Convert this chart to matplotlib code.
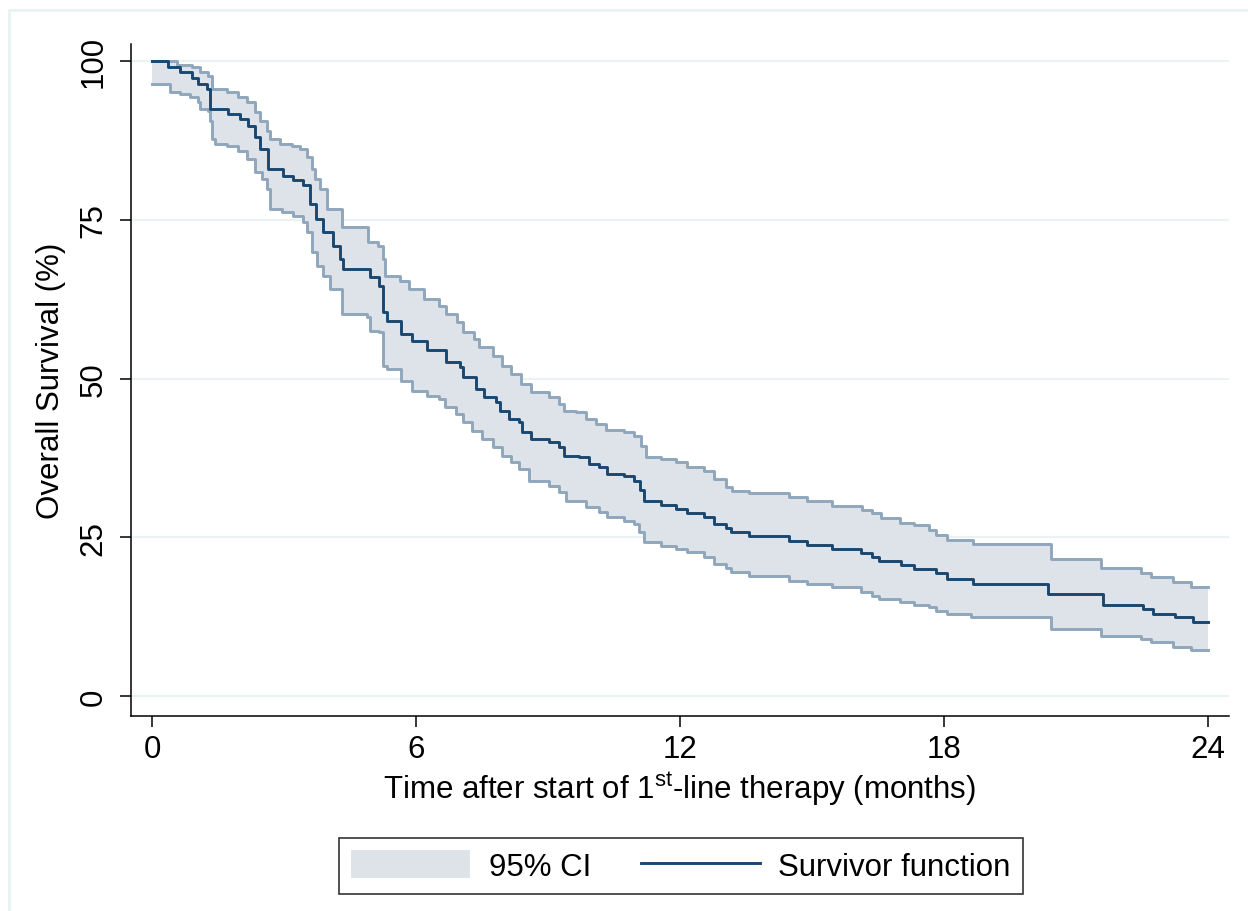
import numpy as np
import matplotlib
matplotlib.use("Agg")
import matplotlib.pyplot as plt
from matplotlib.patches import Patch, Rectangle
from matplotlib.lines import Line2D

plt.rcParams["font.family"] = ["Liberation Sans", "DejaVu Sans"]
plt.rcParams["mathtext.fontset"] = "custom"
plt.rcParams["mathtext.rm"] = "Liberation Sans"

# Kaplan-Meier estimate (months, %)
END_T = 24.0
surv_t = [0, 0.36, 0.64, 0.91, 1.04, 1.25, 1.32, 1.72, 2.00, 2.18, 2.34, 2.45, 2.63, 2.97, 3.20,
          3.43, 3.60, 3.72, 3.88, 4.11, 4.27, 4.35, 4.95, 5.15, 5.24, 5.35, 5.67, 5.92, 6.24, 6.69,
          6.99, 7.06, 7.37, 7.55, 7.83, 7.90, 8.12, 8.35, 8.42, 8.62, 9.03, 9.26, 9.37, 9.71, 9.94,
          10.16, 10.35, 10.73, 10.96, 11.10, 11.18, 11.57, 11.91, 12.16, 12.55, 12.77, 13.04, 13.16,
          13.57, 14.47, 14.88, 15.45, 16.11, 16.36, 16.52, 17.02, 17.31, 17.81, 18.06, 18.67, 20.37,
          21.62, 22.53, 22.75, 23.25, 23.66]
surv_s = [100, 99.0, 98.2, 97.3, 96.4, 95.6, 92.4, 91.7, 90.9, 89.8, 88.0, 86.1, 83.0, 81.9, 81.2,
          80.4, 77.5, 75.1, 73.1, 70.9, 68.8, 67.2, 66.0, 64.6, 60.5, 59.1, 57.0, 55.9, 54.5, 52.6,
          51.8, 50.2, 48.3, 47.1, 46.3, 44.9, 43.6, 43.1, 41.6, 40.5, 40.0, 39.2, 37.8, 37.6, 36.5,
          36.1, 35.0, 34.6, 33.9, 32.5, 30.7, 30.1, 29.4, 28.8, 28.2, 27.1, 26.5, 25.8,
          25.2, 24.4, 23.8, 23.1, 22.5, 21.9, 21.3, 20.6, 20.0, 19.4, 18.5, 17.6, 16.1,
          14.3, 13.7, 12.9, 12.4, 11.7]

# upper 95% CI
up_t = [0, 0.57, 0.91, 1.09, 1.27, 1.36, 1.70, 1.95, 2.16, 2.34, 2.45, 2.61, 2.68, 2.90, 3.18,
        3.36, 3.52, 3.63, 3.70, 3.81, 3.97, 4.33, 4.90, 5.13, 5.24, 5.30, 5.63, 5.85, 6.19, 6.53,
        6.69, 6.94, 7.06, 7.33, 7.44, 7.74, 7.96, 8.17, 8.39, 8.62, 9.03, 9.26, 9.37, 9.64, 9.87,
        10.10, 10.32, 10.73, 10.96, 11.12, 11.23, 11.57, 11.91, 12.16, 12.55, 12.77, 13.04, 13.18,
        13.57, 14.47, 14.88, 15.45, 16.13, 16.36, 16.56, 17.01, 17.31, 17.65, 17.81, 18.06, 18.67,
        20.44, 21.57, 22.48, 22.71, 23.21, 23.62]
up_s = [100, 99.4, 99.0, 98.2, 97.6, 95.6, 95.1, 94.3, 93.5, 92.0, 90.6, 89.0, 87.7, 86.9, 86.6,
        86.1, 84.9, 83.0, 81.4, 79.8, 76.7, 73.9, 71.5, 70.9, 68.8, 66.1, 65.4, 64.1, 62.5, 61.4,
        60.2, 58.9, 57.3, 56.2, 55.0, 53.5, 52.0, 50.7, 49.1, 47.9, 47.1, 46.0, 44.9, 44.7, 43.6,
        42.8, 41.9, 41.6, 40.9, 39.4, 37.6, 37.3, 36.9, 36.1, 35.4, 34.2, 32.9, 32.3,
        32.0, 31.3, 30.7, 29.9, 29.3, 28.8, 28.0, 27.2, 26.9, 26.2, 25.4, 24.5, 23.9,
        21.6, 20.2, 19.4, 18.7, 18.0, 17.2]

# lower 95% CI
lo_t = [0, 0.41, 0.64, 0.86, 1.04, 1.09, 1.27, 1.32, 1.36, 1.43, 1.70, 1.95, 2.16, 2.34, 2.50,
        2.61, 2.68, 2.95, 3.20, 3.43, 3.52, 3.63, 3.74, 3.88, 4.04, 4.33, 4.88, 4.95, 5.17, 5.24,
        5.35, 5.67, 5.92, 6.24, 6.53, 6.65, 6.92, 7.06, 7.28, 7.51, 7.74, 7.96, 8.17, 8.35, 8.58,
        9.03, 9.26, 9.41, 9.87, 10.16, 10.35, 10.73, 10.96, 11.07, 11.18, 11.57, 11.91, 12.16, 12.55,
        12.77, 13.04, 13.16, 13.57, 14.47, 14.88, 15.45, 16.11, 16.36, 16.52, 17.01, 17.31, 17.65,
        17.81, 18.06, 18.62, 20.44, 21.57, 22.48, 22.71, 23.21, 23.62]
lo_s = [96.4, 95.1, 94.8, 94.3, 93.5, 92.4, 92.1, 90.6, 87.7, 86.9, 86.6, 85.8, 84.6, 82.5, 81.4,
        79.8, 76.7, 76.2, 75.6, 74.6, 73.1, 69.9, 67.7, 66.1, 64.1, 60.2, 59.7, 57.5, 57.3, 52.0,
        51.5, 49.6, 48.0, 47.2, 46.8, 45.5, 44.4, 43.1, 41.7, 40.5, 39.2, 37.8, 36.9, 35.7, 33.9,
        33.1, 32.1, 30.7, 29.8, 29.0, 28.2, 27.6, 27.1, 25.8, 24.3, 23.6, 23.1, 22.7, 21.9,
        20.8, 20.2, 19.5, 18.9, 18.1, 17.6, 17.2, 16.4, 15.7, 15.3, 14.8, 14.4, 14.0,
        13.4, 12.9, 12.4, 10.6, 9.5, 9.0, 8.5, 7.7, 7.2]

x_ticks = [0, 6, 12, 18, 24]
y_ticks = [0, 25, 50, 75, 100]

NAVY = "#1a476f"
CI_EDGE = "#8fa6bc"
CI_FILL = "#dee3ea"
GRID = "#eaf2f3"
FS = 22.5


def step_at(knots_t, knots_s, grid):
    idx = np.searchsorted(knots_t, grid, side="right") - 1
    return np.asarray(knots_s)[idx]


def closed(knots_t, knots_s):
    return np.append(knots_t, END_T), np.append(knots_s, knots_s[-1])


W, H = 1248, 912
fig = plt.figure(figsize=(W / 100, H / 100), dpi=100)
fig.patches.append(Rectangle((8.5 / W, -0.05), 1.1, 1.05 - 10.7 / H, transform=fig.transFigure,
                             fill=False, edgecolor=GRID, linewidth=2.2, zorder=0))

ax = fig.add_axes([131 / W, 1 - 717 / H, 1098 / W, 672 / H])
ax.set_xlim(-0.477, 24.48)
ax.set_ylim(-3.15, 102.68)

for y in y_ticks:
    ax.axhline(y, color=GRID, linewidth=1.6, zorder=0)

grid_t = np.unique(np.concatenate([up_t, lo_t, [END_T]]))
ax.fill_between(grid_t, step_at(lo_t, lo_s, grid_t), step_at(up_t, up_s, grid_t),
                step="post", color=CI_FILL, linewidth=0, zorder=1)
ax.step(*closed(up_t, up_s), where="post", color=CI_EDGE, linewidth=2.1, zorder=2)
ax.step(*closed(lo_t, lo_s), where="post", color=CI_EDGE, linewidth=2.1, zorder=2)
ax.step(*closed(surv_t, surv_s), where="post", color=NAVY, linewidth=2.1, zorder=3)

for side in ["top", "right"]:
    ax.spines[side].set_visible(False)
for side in ["left", "bottom"]:
    ax.spines[side].set_linewidth(1.1)

ax.set_xticks(x_ticks)
ax.set_yticks(y_ticks)
ax.tick_params(axis="both", length=8, width=1.1, labelsize=FS, direction="out")
ax.tick_params(axis="x", pad=5)
ax.tick_params(axis="y", pad=8)
plt.setp(ax.get_yticklabels(), rotation=90, va="center")

ax.set_xlabel(r"Time after start of 1$^{\mathregular{st}}$-line therapy (months)", fontsize=FS, labelpad=4)
ax.set_ylabel("Overall Survival (%)", fontsize=FS, labelpad=9)

handles = [Patch(facecolor=CI_FILL, edgecolor="none", label="95% CI"),
           Line2D([], [], color=NAVY, linewidth=2.1, label="Survivor function")]
leg = fig.legend(handles=handles, loc="center", bbox_to_anchor=(681 / W, 45 / H), ncol=2,
                 fontsize=FS, frameon=True, fancybox=False, edgecolor="black",
                 handlelength=3.8, handleheight=1.02, handletextpad=0.6,
                 columnspacing=1.6, borderpad=0.38)
leg.get_frame().set_linewidth(1.2)

fig.savefig("out.png", dpi=100)
